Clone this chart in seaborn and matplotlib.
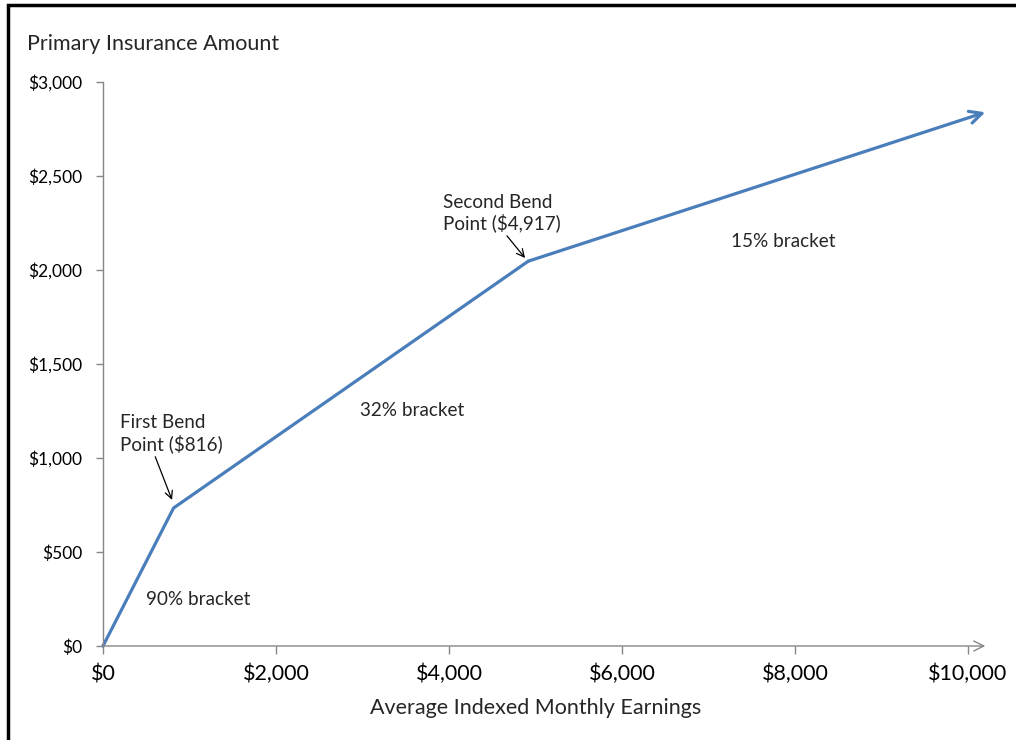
import matplotlib
matplotlib.use("Agg")
import matplotlib.pyplot as plt
import matplotlib.ticker as mticker
from matplotlib.patches import Rectangle
import pandas as pd
import seaborn as sns

# AIME vs PIA, bend points
aime = [0, 816, 4917, 10200]
pia = [0, 734, 2047, 2839]

x_ticks = [0, 2000, 4000, 6000, 8000, 10000]
y_ticks = [0, 500, 1000, 1500, 2000, 2500, 3000]

brackets = ["90% bracket", "32% bracket", "15% bracket"]
bracket_pos = [(1098, 245), (3572, 1255), (7861, 2154)]

sns.set_theme(style="white")
plt.rcParams['font.family'] = ['Lato', 'DejaVu Sans']

df = pd.DataFrame({"aime": aime, "pia": pia})

fig = plt.figure(figsize=(10.16, 7.4), dpi=100)
ax = fig.add_axes([103 / 1016, 94 / 740, 865 / 1016, 564 / 740])

line_color = "#4a7ebb"
axis_color = "#868686"

# line up to the second bend, last segment drawn as an arrow
sns.lineplot(data=df.iloc[:-1], x="aime", y="pia", ax=ax, color=line_color,
             linewidth=2.3, clip_on=False)
ax.annotate("", xy=(aime[-1], pia[-1]), xytext=(aime[-2], pia[-2]),
            xycoords="data", annotation_clip=False,
            arrowprops=dict(arrowstyle="->", color=line_color, lw=2.3,
                            mutation_scale=22, shrinkA=0, shrinkB=0))

ax.set_xlim(0, 10000)
ax.set_ylim(0, 3000)
ax.set_xticks(x_ticks)
ax.set_yticks(y_ticks)
ax.xaxis.set_major_formatter(mticker.FuncFormatter(lambda v, p: f"${v:,.0f}"))
ax.yaxis.set_major_formatter(mticker.FuncFormatter(lambda v, p: f"${v:,.0f}"))

for s in ["top", "right", "bottom"]:
    ax.spines[s].set_visible(False)
ax.spines["left"].set_color(axis_color)
ax.spines["left"].set_linewidth(1.0)

# x axis with open arrow
ax.annotate("", xy=(10200, 0), xytext=(0, 0), xycoords="data",
            annotation_clip=False,
            arrowprops=dict(arrowstyle="->", color=axis_color, lw=1.0,
                            mutation_scale=18, shrinkA=0, shrinkB=0))

ax.tick_params(axis="y", direction="out", length=5, width=1, color=axis_color,
               labelsize=12.5, pad=10, labelcolor="black", left=True)
ax.tick_params(axis="x", direction="out", length=6, width=1, color=axis_color,
               labelsize=15.5, pad=7, labelcolor="black", bottom=True)

ax.set_xlabel("Average Indexed Monthly Earnings", fontsize=15.5, labelpad=10)
ax.set_ylabel("")
fig.text(27 / 1016, 1 - 44 / 740, "Primary Insurance Amount", fontsize=15.5,
         ha="left", va="center")

for label, (bx, by) in zip(brackets, bracket_pos):
    ax.text(bx, by, label, fontsize=13.6, ha="center", va="center")

ax.annotate("First Bend\nPoint ($816)", xy=(798, 777), xytext=(197, 1128),
            fontsize=13.6, ha="left", va="center", linespacing=1.2,
            arrowprops=dict(arrowstyle="->", color="black", lw=0.9,
                            shrinkA=0, shrinkB=0, relpos=(0.33, 0)))
ax.annotate("Second Bend\nPoint ($4,917)", xy=(4879, 2064), xytext=(3931, 2303),
            fontsize=13.6, ha="left", va="center", linespacing=1.2,
            arrowprops=dict(arrowstyle="->", color="black", lw=0.9,
                            shrinkA=0, shrinkB=0, relpos=(0.52, 0)))

# black frame on left and top edges
fig.patches.append(Rectangle((8 / 1016, -0.1), 1.2, 1.1 - 5 / 740,
                             transform=fig.transFigure, fill=False,
                             edgecolor="black", linewidth=2.5))

fig.savefig("out.png", dpi=100)
